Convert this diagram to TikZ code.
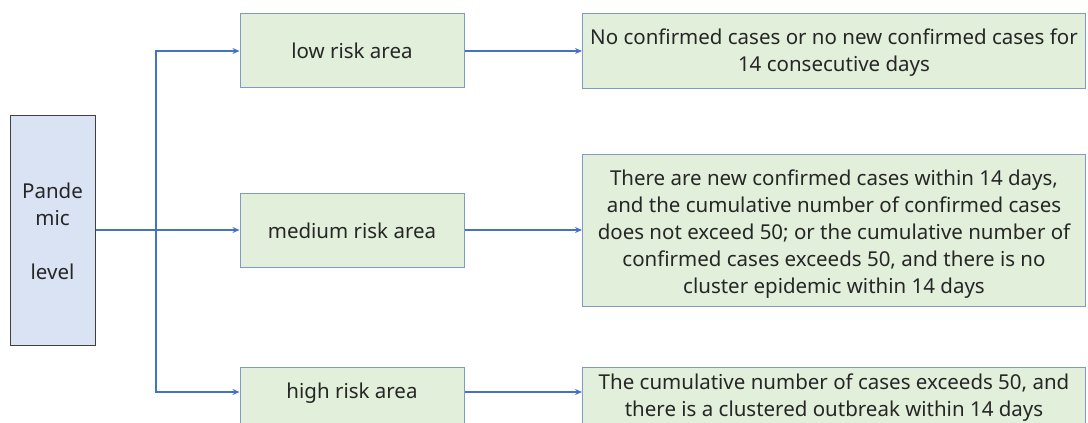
\documentclass[tikz,border=0pt]{standalone}
\usepackage{fontspec}
\setmainfont{Noto Sans}
\usetikzlibrary{arrows.meta}
\definecolor{lineblue}{HTML}{4472C4}
\definecolor{greenfill}{HTML}{E2EFDA}
\definecolor{greenborder}{HTML}{7F9AC6}
\definecolor{bluefill}{HTML}{DAE3F3}
\definecolor{darkborder}{HTML}{404040}
\tikzset{
  txt/.style={font=\fontsize{20.5}{27}\selectfont, text=black!85, align=center},
  box/.style={draw=greenborder, fill=greenfill, line width=1pt, inner sep=0pt},
  levelbox/.style={draw=darkborder, fill=bluefill, line width=1pt, inner sep=0pt},
  conn/.style={draw=lineblue, line width=1.4pt, -{Stealth[length=7pt,width=6pt]}},
}
\begin{document}
\begin{tikzpicture}[x=1pt,y=-1pt]
\useasboundingbox (0,0) rectangle (1088,423);
\clip (0,0) rectangle (1088,423);
\node[levelbox, minimum width=85pt, minimum height=230pt] (lvl) at (52.5,230) {};
\node[txt] (lvltxt) at (52.5,231) {Pande\\mic\\[27pt]level};
\node[box, minimum width=224pt, minimum height=74pt] (low) at (352,50) {};
\node[txt] (lowtxt) at (352,51) {low risk area};
\node[box, minimum width=224pt, minimum height=74pt] (med) at (352,230) {};
\node[txt] (medtxt) at (352,231) {medium risk area};
\node[box, minimum width=224pt, minimum height=74pt] (high) at (352,404) {};
\node[txt] (hightxt) at (352,393) {high risk area};
\node[box, minimum width=503pt, minimum height=75pt] (lowd) at (834,50.5) {};
\node[txt] (lowdtxt) at (834,53) {No confirmed cases or no new confirmed cases for\\14 consecutive days};
\node[box, minimum width=503pt, minimum height=152pt] (medd) at (834,230) {};
\node[txt] (meddtxt) at (834,234) {There are new confirmed cases within 14 days,\\and the cumulative number of confirmed cases\\does not exceed 50; or the cumulative number of\\confirmed cases exceeds 50, and there is no\\cluster epidemic within 14 days};
\node[box, minimum width=503pt, minimum height=74pt] (highd) at (834,404) {};
\node[txt] (highdtxt) at (834,397.5) {The cumulative number of cases exceeds 50, and\\there is a clustered outbreak within 14 days};
\coordinate (split) at (156,230);
\coordinate (top) at (156,51);
\coordinate (bot) at (156,392);
\draw[draw=lineblue, line width=1.4pt] (lvl.east |- split) -- (split);
\draw[conn] (split) -- (med.west);
\draw[conn] (split) -- (top) -- (low.west |- top);
\draw[conn] (split) -- (bot) -- (high.west |- bot);
\draw[conn] (low.east |- top) -- (lowd.west |- top);
\draw[conn] (med.east) -- (medd.west);
\draw[conn] (high.east |- bot) -- (highd.west |- bot);
\end{tikzpicture}
\end{document}
